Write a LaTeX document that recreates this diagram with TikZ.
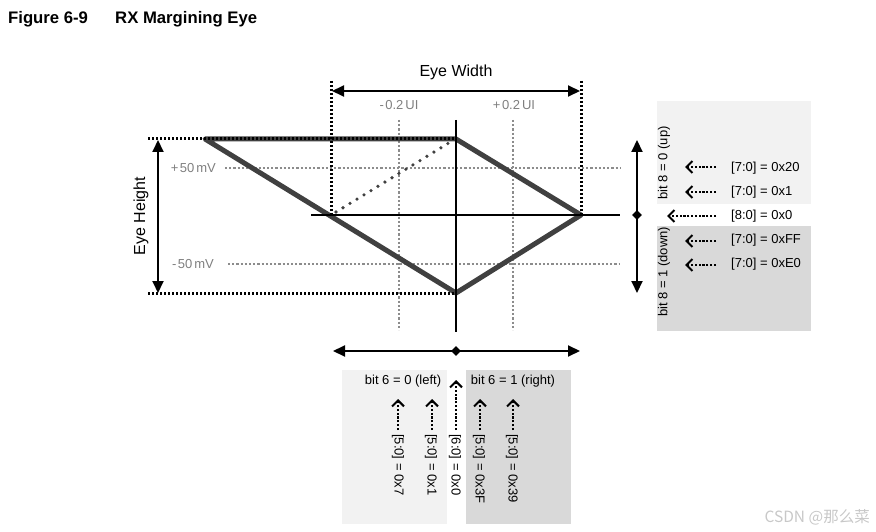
\documentclass[tikz,border=0pt]{standalone}
\usepackage{fontspec}
\setmainfont{Liberation Sans}
\newfontfamily\cjkfont{Noto Sans CJK SC}
\usetikzlibrary{arrows.meta,shapes.geometric}
\definecolor{boxlight}{HTML}{F2F2F2}
\definecolor{boxdark}{HTML}{D9D9D9}
\definecolor{eyegray}{HTML}{404040}
\definecolor{gridgray}{HTML}{8C8C8C}
\definecolor{txtgray}{HTML}{7F7F7F}
\definecolor{wmgray}{HTML}{C8C8C8}
\begin{document}
\begin{tikzpicture}[x=1pt,y=-1pt,
  lbl/.style={font=\fontsize{13}{15}\selectfont, inner sep=0pt},
  biglbl/.style={font=\fontsize{16}{18}\selectfont, inner sep=0pt},
  glbl/.style={font=\fontsize{13}{15}\selectfont, text=txtgray, inner sep=0pt},
  titlefont/.style={font=\fontsize{16.7}{19}\selectfont\bfseries, inner sep=0pt},
  griddot/.style={draw=gridgray, line width=2.3pt, dash pattern=on 2.2pt off 2pt},
  blackdot/.style={draw=black, line width=3pt, dash pattern=on 2.4pt off 1.6pt},
  rounddot/.style={draw=eyegray, line width=3.6pt, line cap=round, dash pattern=on 0pt off 8.2pt},
  eyeline/.style={draw=eyegray, line width=5pt, line join=round},
  axisline/.style={draw=black, line width=2.4pt},
  dimarrow/.style={draw=black, line width=2pt, {Triangle[length=12pt,width=11pt]}-{Triangle[length=12pt,width=11pt]}},
  selarrow/.style={draw=black, line width=2.4pt, dash pattern=on 2.2pt off 1.6pt, -{Straight Barb[length=6pt,width=12pt,line width=2pt]}},
  dmd/.style={diamond, fill=black, inner sep=0pt, minimum size=10pt},
]
\useasboundingbox (0,0) rectangle (876,532);

% title
\node[titlefont, anchor=base west] (t1) at (8,24) {Figure 6-9};
\node[titlefont, anchor=base west] (t2) at (115,24) {RX Margining Eye};

% panels
\fill[boxlight] (657,101) rectangle (811,204);
\fill[boxdark] (657,226) rectangle (811,331);
\fill[boxlight] (342,370) rectangle (447,524);
\fill[boxdark] (466,370) rectangle (571,524);

% coordinates
\coordinate (EL) at (205,139);
\coordinate (ET) at (456,139);
\coordinate (ER) at (581,215);
\coordinate (EB) at (456,293);

% gray grid
\draw[griddot] (399,120) -- (399,330);
\draw[griddot] (513,120) -- (513,330);
\draw[griddot] (225,168) -- (620,168);
\draw[griddot] (228,264) -- (620,264);

% eye
\draw[eyeline] (EL) -- (ET) -- (ER) -- (EB) -- cycle;

% axes
\coordinate (VT) at (456,120);
\coordinate (VB) at (456,332);
\coordinate (HL) at (311,215);
\coordinate (HR) at (620,215);
\draw[axisline] (VT) -- (VB);
\draw[axisline] (HL) -- (HR);

% black dotted guides
\draw[blackdot] (148,139) -- (ET);
\draw[blackdot] (148,293) -- (EB);
\draw[blackdot] (331,81) -- (331,215);
\draw[blackdot] (581,81) -- (ER);
\draw[rounddot] (336,212) -- (452,141);

% gray labels
\node[glbl] (m02) at (399,105) {-\kern1.5pt0.2\kern2pt UI};
\node[glbl] (p02) at (514,105) {+\kern1.5pt0.2\kern2pt UI};
\node[glbl, anchor=east] (p50) at (216,168) {+\kern1.5pt50\kern2pt mV};
\node[glbl, anchor=east] (m50) at (214,264) {-\kern1.5pt50\kern2pt mV};

% eye width / height
\coordinate (WL) at (332,91);
\coordinate (WR) at (580,91);
\draw[dimarrow] (WL) -- (WR);
\node[biglbl] (ew) at (456,72) {Eye Width};
\coordinate (HT) at (158,140);
\coordinate (HB) at (158,293);
\draw[dimarrow] (HT) -- (HB);
\node[biglbl, rotate=90] (eh) at (141,216) {Eye Height};

% bottom left/right arrow
\coordinate (BL) at (333,351);
\coordinate (BR) at (580,351);
\draw[dimarrow] (BL) -- (BR);
\node[dmd] (bd) at (456,351) {};

% right up/down arrow
\coordinate (RT) at (637,140);
\coordinate (RB) at (637,293);
\draw[dimarrow] (RT) -- (RB);
\node[dmd] (rd) at (637,215) {};

% right panel texts
\node[lbl, rotate=90] (up) at (664,163) {bit 8 = 0 (up)};
\node[lbl, rotate=90] (down) at (664,272) {bit 8 = 1 (down)};
\node[lbl, anchor=west] (r1) at (731,168) {[7:0] = 0x20};
\node[lbl, anchor=west] (r2) at (731,192) {[7:0] = 0x1};
\node[lbl, anchor=west] (r3) at (731,216) {[8:0] = 0x0};
\node[lbl, anchor=west] (r4) at (731,240) {[7:0] = 0xFF};
\node[lbl, anchor=west] (r5) at (731,264) {[7:0] = 0xE0};
\coordinate (a1s) at (716,167); \coordinate (a1e) at (685,167);
\coordinate (a2s) at (716,192); \coordinate (a2e) at (685,192);
\coordinate (a3s) at (716,216); \coordinate (a3e) at (667,216);
\coordinate (a4s) at (716,241); \coordinate (a4e) at (685,241);
\coordinate (a5s) at (716,265); \coordinate (a5e) at (685,265);
\draw[selarrow] (a1s) -- (a1e);
\draw[selarrow] (a2s) -- (a2e);
\draw[selarrow] (a3s) -- (a3e);
\draw[selarrow] (a4s) -- (a4e);
\draw[selarrow] (a5s) -- (a5e);

% bottom panel texts
\node[lbl] (lft) at (403,381) {bit 6 = 0 (left)};
\node[lbl] (rgt) at (513,381) {bit 6 = 1 (right)};
\node[lbl, rotate=-90, anchor=west] (b1) at (398,434) {[5:0] = 0x7};
\node[lbl, rotate=-90, anchor=west] (b2) at (431,434) {[5:0] = 0x1};
\node[lbl, rotate=-90, anchor=west] (b3) at (455,434) {[6:0] = 0x0};
\node[lbl, rotate=-90, anchor=west] (b4) at (479,434) {[5:0] = 0x3F};
\node[lbl, rotate=-90, anchor=west] (b5) at (512,434) {[5:0] = 0x39};
\coordinate (c1s) at (398,430); \coordinate (c1e) at (398,399);
\coordinate (c2s) at (432,430); \coordinate (c2e) at (432,399);
\coordinate (c3s) at (456,430); \coordinate (c3e) at (456,380);
\coordinate (c4s) at (480,430); \coordinate (c4e) at (480,399);
\coordinate (c5s) at (513,430); \coordinate (c5e) at (513,399);
\draw[selarrow] (c1s) -- (c1e);
\draw[selarrow] (c2s) -- (c2e);
\draw[selarrow] (c3s) -- (c3e);
\draw[selarrow] (c4s) -- (c4e);
\draw[selarrow] (c5s) -- (c5e);

% watermark
\node[inner sep=0pt, anchor=east, text=wmgray, font=\cjkfont\fontsize{15.5}{17}\selectfont] (wm) at (870,517) {CSDN @那么菜};
\end{tikzpicture}
\end{document}
